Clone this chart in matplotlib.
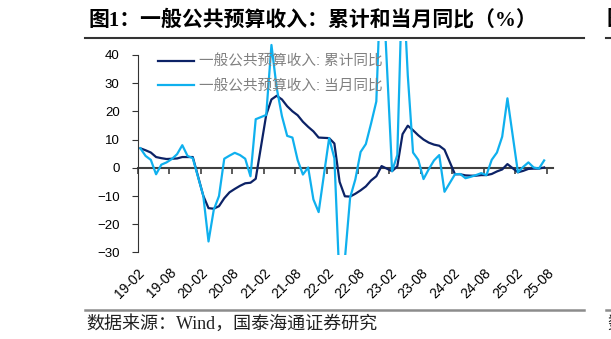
import matplotlib.pyplot as plt
from matplotlib.lines import Line2D
from matplotlib.transforms import ScaledTranslation

plt.rcParams['font.family'] = ['Liberation Sans', 'Noto Sans CJK SC']

# months (Jan-Feb reported together as Feb)
months = (
    [f"2019-{m:02d}" for m in range(2, 13)] + [f"2020-{m:02d}" for m in range(2, 13)] +
    [f"2021-{m:02d}" for m in range(2, 13)] + [f"2022-{m:02d}" for m in range(2, 13)] +
    [f"2023-{m:02d}" for m in range(2, 13)] + [f"2024-{m:02d}" for m in range(2, 13)] +
    [f"2025-{m:02d}" for m in range(2, 8)]
)

cum_yoy = [
    6.9, 6.2, 5.4, 3.8, 3.4, 3.1, 3.2, 3.3, 3.8, 3.8, 3.8,
    -9.9, -14.3, -14.5, -13.6, -10.8, -8.7, -7.5, -6.4, -5.5, -5.3, -3.9,
    18.7, 24.2, 25.5, 24.2, 21.8, 20.0, 18.6, 16.3, 14.5, 12.9, 10.7,
    10.5, 8.6, -5.0, -10.1, -10.2, -9.2, -8.0, -6.6, -4.5, -3.0, 0.6,
    -1.2, 0.5, 11.9, 14.9, 13.3, 11.5, 10.0, 8.9, 8.2, 7.8, 6.4,
    -2.3, -2.3, -2.7, -2.8, -2.8, -2.6, -2.6, -2.2, -1.3, -0.6, 1.3,
    -1.6, -1.1, -0.4, -0.3, -0.3, 0.1,
]

mon_yoy = [
    6.9, 4.2, 2.8, -2.3, 1.1, 1.9, 3.1, 4.8, 8.0, 4.2, 3.4,
    -9.9, -26.1, -14.9, -10.0, 3.2, 4.3, 5.3, 4.5, 3.2, -3.0, 17.2,
    18.7, 43.5, 28.3, 18.3, 11.3, 10.7, 2.7, -2.4, 0.1, -11.2, -15.7,
    10.5, 3.4, -41.3, -32.5, -10.6, -4.1, 5.6, 8.4, 15.7, 23.5, 75.0,
    -1.2, 4.5, 70.2, 32.7, 5.4, 2.8, -4.0, -0.5, 2.6, 4.5, -8.5,
    -2.3, -2.2, -3.7, -3.2, -2.6, -1.9, -2.6, 2.8, 5.4, 11.0, 24.6,
    -1.6, 0.3, 1.9, 0.1, -0.3, 2.6,
]

tick_labels = ["19-02", "19-08", "20-02", "20-08", "21-02", "21-08", "22-02",
               "22-08", "23-02", "23-08", "24-02", "24-08", "25-02", "25-08"]

# month index from 2019-02, points placed mid-month
x = [(int(s[:4]) - 2019) * 12 + int(s[5:]) - 2 + 0.5 for s in months]
tick_pos = [(2000 + int(t[:2]) - 2019) * 12 + int(t[3:]) - 2 for t in tick_labels]

fig = plt.figure(figsize=(6.11, 3.39), dpi=100)
ax = fig.add_axes([0.2254, 0.2469, 0.6789, 0.633])

ymin, ymax = -31, 45
ax.plot(x, cum_yoy, color='#0c2266', lw=1.6, label='一般公共预算收入: 累计同比')
ax.plot(x, mon_yoy, color='#0fb0ee', lw=1.6, label='一般公共预算收入: 当月同比')
ax.set_xlim(0, 79.1)
ax.set_ylim(ymin, ymax)

for s in ['top', 'right', 'bottom']:
    ax.spines[s].set_visible(False)
ax.spines['left'].set_bounds(-30, 40)
ax.spines['left'].set_color('#333333')
ax.set_yticks(range(-30, 41, 10))
ax.tick_params(axis='y', direction='out', length=4, pad=9, labelsize=9.5, color='#333333')
ax.set_xticks(tick_pos)
ax.set_xticklabels(tick_labels, rotation=45, ha='right', va='center', rotation_mode='anchor')
ax.tick_params(axis='x', length=0, pad=11, labelsize=10)
shift = ScaledTranslation(5 / 100, 0, fig.dpi_scale_trans)
for lab in ax.get_xticklabels():
    lab.set_transform(lab.get_transform() + shift)

# zero line with tick marks
sec = ax.secondary_xaxis((0 - ymin) / (ymax - ymin))
sec.set_xticks(tick_pos)
sec.tick_params(direction='out', length=4, labelbottom=False, color='#404040', width=1.2)
sec.spines['bottom'].set_color('#404040')
sec.spines['bottom'].set_linewidth(1.5)

leg = ax.legend(loc='upper left', bbox_to_anchor=(158 / 611, 1 - 55 / 339),
                bbox_transform=fig.transFigure, frameon=False, fontsize=10.5,
                handlelength=2.5, handletextpad=0.3, labelspacing=0.7,
                borderpad=0, borderaxespad=0)
for t in leg.get_texts():
    t.set_color('#808080')

fam = ['Liberation Serif', 'Noto Sans CJK SC']
fig.text(88 / 611, 1 - 20 / 339, '图1：一般公共预算收入：累计和当月同比（%）',
         fontsize=15, fontweight='bold', family=fam, va='center', ha='left')
fig.text(607 / 611, 1 - 20 / 339, '图', fontsize=15, fontweight='bold', family=fam,
         va='center', ha='left')
fig.add_artist(Line2D([85 / 611, 584 / 611], [1 - 38 / 339] * 2, color='#333333', lw=1.5))
fig.add_artist(Line2D([606 / 611, 1], [1 - 38 / 339] * 2, color='#333333', lw=1.5))
fig.add_artist(Line2D([85 / 611, 584 / 611], [1 - 310 / 339] * 2, color='#8c8c8c', lw=1.8))
fig.add_artist(Line2D([606 / 611, 1], [1 - 310 / 339] * 2, color='#8c8c8c', lw=1.8))
fig.text(86 / 611, 1 - 324 / 339, '数据来源：Wind，国泰海通证券研究', fontsize=13,
         family=fam, va='center', ha='left', color='#222222')
fig.text(607 / 611, 1 - 324 / 339, '数', fontsize=13, family=fam,
         va='center', ha='left', color='#222222')

fig.savefig('out.png', dpi=100)
